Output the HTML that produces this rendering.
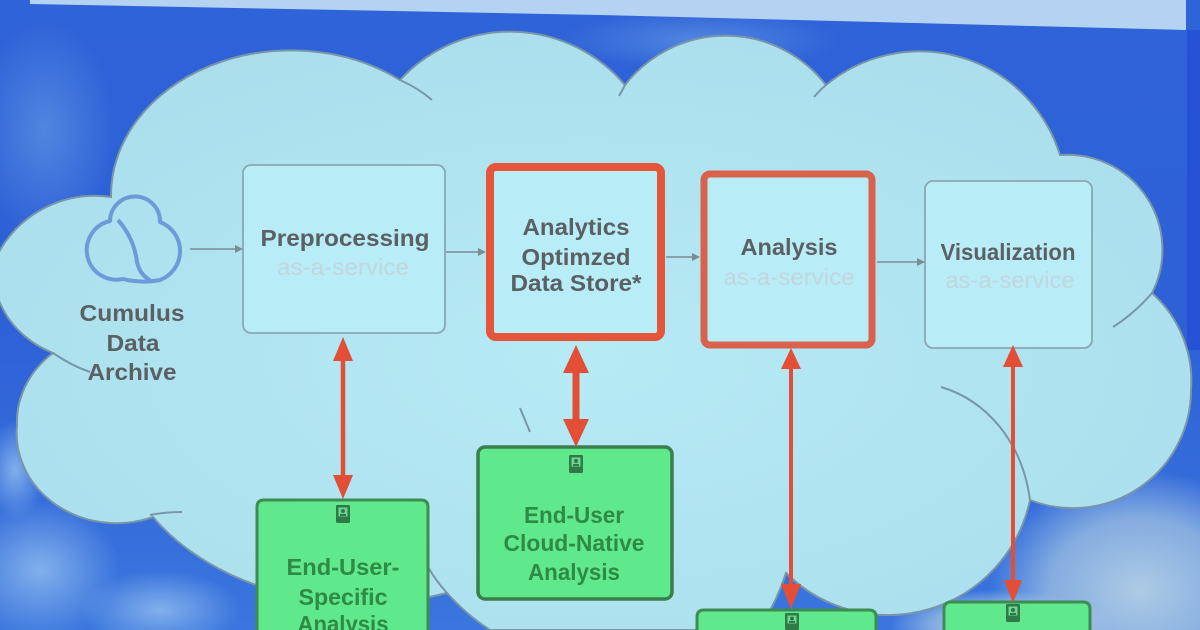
<!DOCTYPE html>
<html><head><meta charset="utf-8">
<style>
html,body{margin:0;padding:0;width:1200px;height:630px;overflow:hidden;background:#3167d9;}
svg{display:block}
text{font-family:"Liberation Sans",Arial,sans-serif;}
</style></head><body>
<svg width="1200" height="630" viewBox="0 0 1200 630" xmlns="http://www.w3.org/2000/svg">
<defs>
 <linearGradient id="sky" x1="0" y1="0" x2="0" y2="1">
  <stop offset="0" stop-color="#2f63d8"/>
  <stop offset="0.5" stop-color="#2e60d6"/>
  <stop offset="1" stop-color="#3a76de"/>
 </linearGradient>
 <radialGradient id="soft" cx="0.5" cy="0.5" r="0.5">
  <stop offset="0" stop-color="#8fbbee" stop-opacity="0.85"/>
  <stop offset="1" stop-color="#8fbbee" stop-opacity="0"/>
 </radialGradient>
 <radialGradient id="softw" cx="0.5" cy="0.5" r="0.5">
  <stop offset="0" stop-color="#b4d0e6" stop-opacity="0.95"/>
  <stop offset="0.6" stop-color="#a6c6e2" stop-opacity="0.7"/>
  <stop offset="1" stop-color="#a6c6e2" stop-opacity="0"/>
 </radialGradient>
 <radialGradient id="softb" cx="0.5" cy="0.5" r="0.5">
  <stop offset="0" stop-color="#5a8fe2" stop-opacity="0.8"/>
  <stop offset="1" stop-color="#5a8fe2" stop-opacity="0"/>
 </radialGradient>
 <radialGradient id="cloudfill" cx="0.5" cy="0.55" r="0.6">
  <stop offset="0" stop-color="#b6eaf5"/>
  <stop offset="1" stop-color="#abdeec"/>
 </radialGradient>
</defs>

<!-- sky -->
<rect width="1200" height="630" fill="url(#sky)"/>
<ellipse cx="45" cy="130" rx="70" ry="110" fill="url(#softb)"/>
<ellipse cx="700" cy="40" rx="140" ry="30" fill="url(#softb)"/>
<ellipse cx="40" cy="570" rx="80" ry="70" fill="url(#soft)"/>
<ellipse cx="160" cy="610" rx="80" ry="40" fill="url(#soft)"/>
<ellipse cx="15" cy="470" rx="30" ry="50" fill="url(#soft)"/>
<ellipse cx="1140" cy="590" rx="150" ry="120" fill="url(#softw)"/>
<ellipse cx="1000" cy="625" rx="110" ry="35" fill="url(#softw)"/>
<rect x="1187" y="30" width="13" height="320" fill="#2653d6"/>

<!-- top slide band -->
<polygon points="30,0 1186,0 1186,30 600,15 30,4" fill="#b4d3f2"/>

<!-- cloud -->
<path d="M 0 250
 A 110 110 0 0 1 111 197
 A 180 145 0 0 1 400 80
 A 150 150 0 0 1 625 85
 A 127 127 0 0 1 826 85
 A 147 147 0 0 1 1060 155
 A 95 95 0 0 1 1152 293
 A 118 118 0 0 1 1191 390
 A 118 118 0 0 1 1030 500
 A 145 145 0 0 1 786 573
 A 215 215 0 0 1 758 630
 L 490 630
 A 215 215 0 0 1 447 593
 A 250 185 0 0 1 153 517
 A 100 90 0 0 1 17 425
 A 100 90 0 0 1 53 353
 A 100 90 0 0 1 0 303
 L -12 276 Z" fill="url(#cloudfill)" stroke="#7896a8" stroke-width="2"/>

<!-- inner arcs -->
<g fill="none" stroke="#7896a8" stroke-width="2">
 <path d="M 400 80 Q 418 88 432 100"/>
 <path d="M 625 85 Q 622 91 619 96"/>
 <path d="M 826 85 Q 820 90 814 97"/>
 <path d="M 1152 293 Q 1135 313 1113 327"/>
 <path d="M 941 387 C 985 400 1022 440 1030 500"/>
 <path d="M 53 353 Q 72 366 90 372"/>
 <path d="M 150 515 Q 165 512 182 512"/>
 <path d="M 447 593 Q 436 581 428 567"/>
 <path d="M 520 408 L 530 432"/>
</g>

<!-- cumulus icon -->
<g fill="none" stroke="#6b9bd8" stroke-width="4" stroke-linejoin="round">
 <path d="M 123 279 A 29 29 0 1 1 110 221 A 25 25 0 1 1 160 222 A 31 31 0 0 1 160 280 A 40 18 0 0 1 123 279 Z"/>
 <path d="M 118 220 Q 134 238 137 262 Q 140 275 150 280"/>
</g>
<g font-weight="bold" font-size="23" fill="#5a6064" text-anchor="middle">
 <text x="132" y="321" textLength="105" lengthAdjust="spacingAndGlyphs">Cumulus</text>
 <text x="133" y="351" textLength="53" lengthAdjust="spacingAndGlyphs">Data</text>
 <text x="132" y="380" textLength="89" lengthAdjust="spacingAndGlyphs">Archive</text>
</g>

<!-- service boxes -->
<rect x="243" y="165" width="202" height="168" rx="8" fill="#b8ecf6" stroke="#8aa6b4" stroke-width="1.8"/>
<rect x="490" y="167" width="171" height="170" rx="6" fill="#b8ecf6" stroke="#e4553a" stroke-width="8"/>
<rect x="704" y="174" width="168" height="171" rx="6" fill="#b8ecf6" stroke="#d9624e" stroke-width="7"/>
<rect x="925" y="181" width="167" height="167" rx="8" fill="#b8ecf6" stroke="#8aa6b4" stroke-width="1.8"/>

<g font-weight="bold" font-size="23" fill="#5a6064" text-anchor="middle">
 <text x="345" y="246" textLength="169" lengthAdjust="spacingAndGlyphs">Preprocessing</text>
 <text x="576" y="235" textLength="107" lengthAdjust="spacingAndGlyphs">Analytics</text>
 <text x="576" y="265" textLength="109" lengthAdjust="spacingAndGlyphs">Optimzed</text>
 <text x="576" y="291" textLength="131" lengthAdjust="spacingAndGlyphs">Data Store*</text>
 <text x="789" y="255" textLength="97" lengthAdjust="spacingAndGlyphs">Analysis</text>
 <text x="1008" y="260" textLength="135" lengthAdjust="spacingAndGlyphs">Visualization</text>
</g>
<g font-size="23" fill="#c2d6de" text-anchor="middle">
 <text x="343" y="275" textLength="132" lengthAdjust="spacingAndGlyphs">as-a-service</text>
 <text x="789" y="285" textLength="131" lengthAdjust="spacingAndGlyphs">as-a-service</text>
 <text x="1010" y="288" textLength="129" lengthAdjust="spacingAndGlyphs">as-a-service</text>
</g>

<!-- thin gray arrows -->
<g stroke="#7a8c94" stroke-width="1.6" fill="#7a8c94">
 <line x1="190" y1="249" x2="236" y2="249"/>
 <polygon points="243,249 235,245 235,253" stroke="none"/>
 <line x1="446" y1="252" x2="480" y2="252"/>
 <polygon points="486,252 478,248 478,256" stroke="none"/>
 <line x1="666" y1="257" x2="693" y2="257"/>
 <polygon points="700,257 692,253 692,261" stroke="none"/>
 <line x1="877" y1="262" x2="918" y2="262"/>
 <polygon points="925,262 917,258 917,266" stroke="none"/>
</g>

<!-- green boxes -->
<g stroke="#3d8c52" stroke-width="3" fill="#5fe88c">
 <path d="M 257 630 L 257 507 Q 257 500 264 500 L 421 500 Q 428 500 428 507 L 428 630"/>
 <rect x="478" y="447" width="194" height="152" rx="7" stroke="#3a7f4c" stroke-width="3.5"/>
 <path d="M 697 630 L 697 617 Q 697 610 704 610 L 869 610 Q 876 610 876 617 L 876 630"/>
 <path d="M 944 630 L 944 609 Q 944 602 951 602 L 1083 602 Q 1090 602 1090 609 L 1090 630"/>
</g>
<!-- icons -->
<g>
 <g transform="translate(343,514)">
  <rect x="-7" y="-9" width="14" height="18" rx="1.5" fill="#2f7a45"/>
  <rect x="-4.5" y="-6.5" width="9" height="9" fill="#6fd594"/>
  <circle cx="0" cy="-3" r="2" fill="#2f7a45"/>
  <rect x="-3" y="0" width="6" height="2" fill="#2f7a45"/>
 </g>
 <g transform="translate(576,464)">
  <rect x="-7" y="-9" width="14" height="18" rx="1.5" fill="#2f7a45"/>
  <rect x="-4.5" y="-6.5" width="9" height="9" fill="#6fd594"/>
  <circle cx="0" cy="-3" r="2" fill="#2f7a45"/>
  <rect x="-3" y="0" width="6" height="2" fill="#2f7a45"/>
 </g>
 <g transform="translate(792,621)">
  <rect x="-7" y="-8" width="14" height="17" rx="1.5" fill="#2f7a45"/>
  <rect x="-4.5" y="-5.5" width="9" height="8" fill="#6fd594"/>
  <circle cx="0" cy="-2.5" r="2" fill="#2f7a45"/>
  <rect x="-3" y="0" width="6" height="2" fill="#2f7a45"/>
 </g>
 <g transform="translate(1013,613)">
  <rect x="-7" y="-9" width="14" height="18" rx="1.5" fill="#2f7a45"/>
  <rect x="-4.5" y="-6.5" width="9" height="9" fill="#6fd594"/>
  <circle cx="0" cy="-3" r="2" fill="#2f7a45"/>
  <rect x="-3" y="0" width="6" height="2" fill="#2f7a45"/>
 </g>
</g>
<g font-weight="bold" font-size="23" fill="#2f8a45" text-anchor="middle">
 <text x="343" y="575" textLength="113" lengthAdjust="spacingAndGlyphs">End-User-</text>
 <text x="343" y="605" textLength="89" lengthAdjust="spacingAndGlyphs">Specific</text>
 <text x="343" y="632" textLength="91" lengthAdjust="spacingAndGlyphs">Analysis</text>
 <text x="574" y="523" textLength="100" lengthAdjust="spacingAndGlyphs">End-User</text>
 <text x="574" y="551" textLength="141" lengthAdjust="spacingAndGlyphs">Cloud-Native</text>
 <text x="574" y="580" textLength="92" lengthAdjust="spacingAndGlyphs">Analysis</text>
</g>

<!-- red bidirectional arrows -->
<g fill="#e24e36" stroke="#e24e36">
 <line x1="343" y1="355" x2="343" y2="481" stroke-width="4.5"/>
 <polygon points="343,337 333,361 353,361" stroke="none"/>
 <polygon points="343,499 333,475 353,475" stroke="none"/>

 <line x1="576" y1="365" x2="576" y2="428" stroke-width="7"/>
 <polygon points="576,345 563,373 589,373" stroke="none"/>
 <polygon points="576,447 563,419 589,419" stroke="none"/>

 <line x1="791" y1="365" x2="791" y2="592" stroke-width="4"/>
 <polygon points="791,348 781,369 801,369" stroke="none"/>
 <polygon points="791,609 781,584 801,584" stroke="none"/>

 <line x1="1013" y1="362" x2="1013" y2="588" stroke-width="4"/>
 <polygon points="1013,345 1003,367 1023,367" stroke="none"/>
 <polygon points="1013,603 1004,580 1022,580" stroke="none"/>
</g>
</svg>
</body></html>
